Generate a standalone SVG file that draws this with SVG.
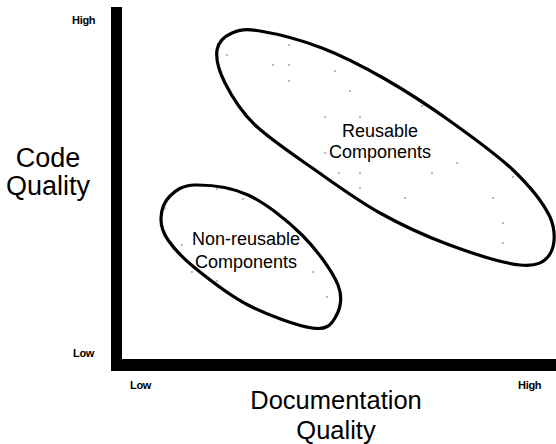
<svg xmlns="http://www.w3.org/2000/svg" width="556" height="444" viewBox="0 0 556 444">
<style>
text{font-family:"Liberation Sans",Arial,sans-serif;fill:#000}
.tick{font-size:11px;font-weight:bold;letter-spacing:-0.3px}
.axis{font-size:27px;text-anchor:middle}
.xaxis{font-size:25.5px;text-anchor:middle}
.lbl{font-size:18px;text-anchor:middle}
.blob{fill:none;stroke:#000;stroke-width:3.2;stroke-linejoin:round}
.dot{fill:#444}
</style>
<rect width="556" height="444" fill="#fff"/>
<g id="axes">
<rect x="111" y="7" width="11" height="364" fill="#000"/>
<rect x="111" y="359" width="445" height="12" fill="#000"/>
<text class="tick" x="72" y="24">High</text>
<text class="tick" x="73" y="357">Low</text>
<text class="tick" x="130" y="389">Low</text>
<text class="tick" x="518" y="389">High</text>
<text class="axis" x="48" y="167">Code</text>
<text class="axis" x="48" y="195">Quality</text>
<text class="xaxis" x="336" y="409">Documentation</text>
<text class="xaxis" x="336" y="439">Quality</text>
</g>
<g id="reusable">
<path class="blob" d="M217,50 C218.2,41.7 224.8,36.2 232,33 C239.2,29.8 245,28.5 260,31 C275,33.5 301.2,40 322,48 C342.8,56 363.7,66.8 385,79 C406.3,91.2 428.7,105.8 450,121 C471.3,136.2 496.3,154 513,170 C529.7,186 543.5,203.3 550,217 C556.2,231 555,246 550,254 C545,262 537.2,266.7 520,265 C502.8,263.3 470.3,252.7 447,244 C423.7,235.3 401.5,225 380,213 C358.5,201 338.8,186.7 318,172 C297.2,157.3 270.5,139.8 255,125 C239.5,110.2 231.3,95.5 225,83 C218.7,70.5 215.8,58.3 217,50 Z"/>
<g class="dot">
<circle cx="227" cy="55" r="0.7"/><circle cx="273" cy="65" r="0.7"/><circle cx="289" cy="45" r="0.7"/><circle cx="289" cy="65" r="0.7"/><circle cx="289" cy="81" r="0.7"/><circle cx="335" cy="71" r="0.7"/><circle cx="350" cy="91" r="0.7"/><circle cx="422" cy="106" r="0.7"/><circle cx="325" cy="117" r="0.7"/><circle cx="360" cy="117" r="0.7"/><circle cx="325" cy="153" r="0.7"/><circle cx="339" cy="173" r="0.7"/><circle cx="360" cy="173" r="0.7"/><circle cx="432" cy="173" r="0.7"/><circle cx="360" cy="188" r="0.7"/><circle cx="405" cy="198" r="0.7"/><circle cx="457" cy="163" r="0.7"/><circle cx="493" cy="198" r="0.7"/><circle cx="503" cy="223" r="0.7"/><circle cx="503" cy="243" r="0.7"/><circle cx="513" cy="177" r="0.7"/>
</g>
<text class="lbl" x="380" y="137">Reusable</text>
<text class="lbl" x="380" y="158">Components</text>
</g>
<g id="nonreusable">
<path class="blob" d="M161,218 C161.3,210.7 164.3,201.5 170,196 C175.7,190.5 182,185.2 195,185 C208,184.8 230.2,186.7 248,195 C265.8,203.3 287,220 302,235 C317,250 332.5,271.2 338,285 C343.5,298.8 339.3,310.8 335,318 C330.7,325.2 326.5,330.2 312,328 C297.5,325.8 267.5,315 248,305 C228.5,295 208.3,278.8 195,268 C181.7,257.2 173.7,248.3 168,240 C162.3,231.7 160.7,225.3 161,218 Z"/>
<g class="dot">
<circle cx="217" cy="189" r="0.7"/><circle cx="243" cy="199" r="0.7"/><circle cx="182" cy="245" r="0.7"/><circle cx="192" cy="272" r="0.7"/><circle cx="217" cy="281" r="0.7"/><circle cx="313" cy="272" r="0.7"/><circle cx="327" cy="297" r="0.7"/><circle cx="165" cy="208" r="0.7"/>
</g>
<text class="lbl" x="246" y="245">Non-reusable</text>
<text class="lbl" x="246" y="268">Components</text>
</g>
<g id="connectors"></g>
</svg>
